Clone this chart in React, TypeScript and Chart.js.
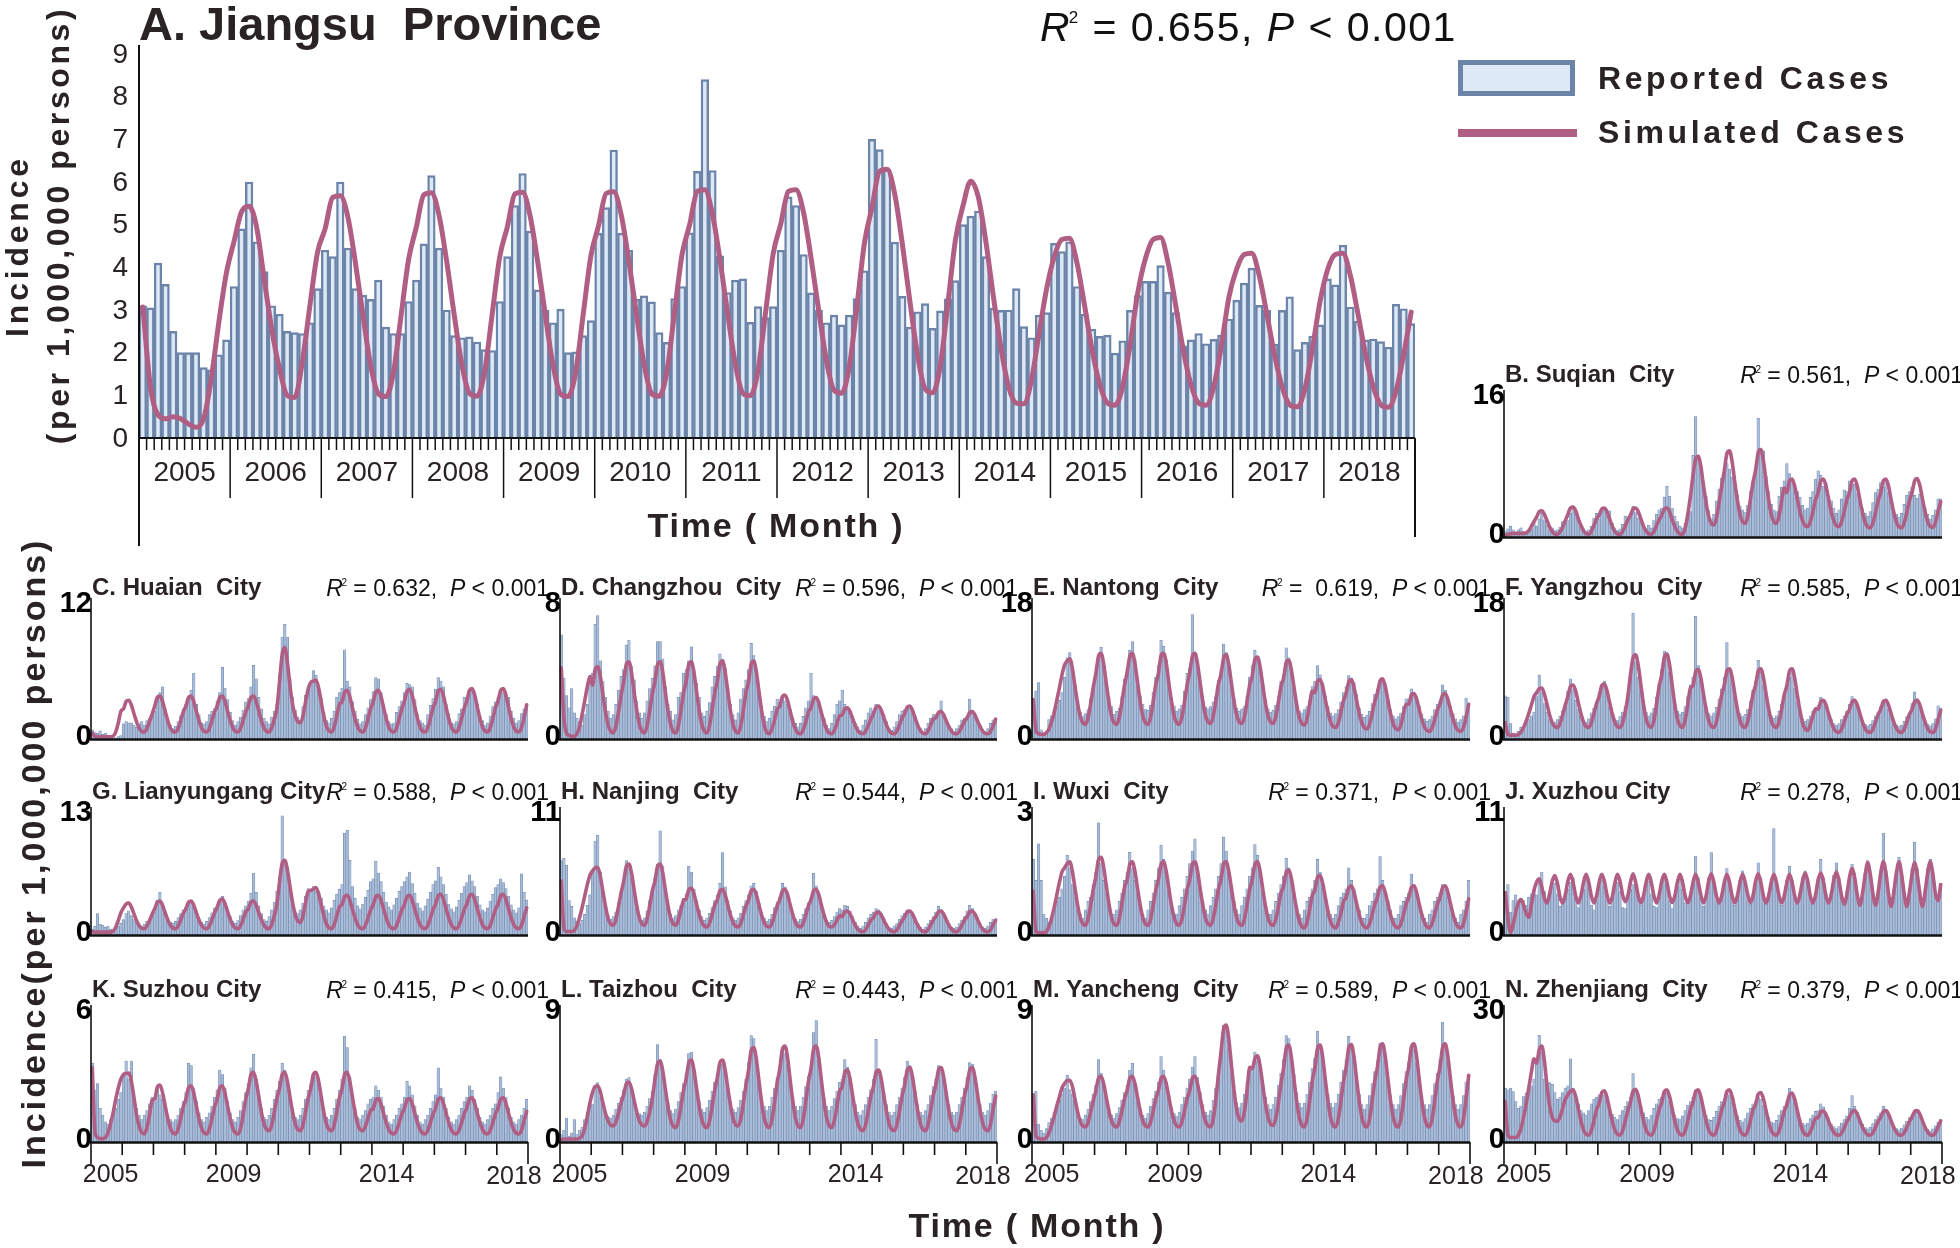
import React, { useEffect, useRef } from "react";
import { Chart, registerables } from "chart.js";
Chart.register(...registerables);

// ---------------- DATA ----------------
const YEARS = ["2005","2006","2007","2008","2009","2010","2011","2012","2013","2014","2015","2016","2017","2018"];
const MONTH_LABELS = YEARS.flatMap((y) => ["01","02","03","04","05","06","07","08","09","10","11","12"].map((m) => `${y}-${m}`));
const MAIN_Y_TICKS = ["0","1","2","3","4","5","6","7","8","9"];
const SMALL_X_TICKS = ["2005","2009","2014","2018"];

const jiangsuReported = [
  3.1,3.05,4.1,3.6,2.5,2.0,2.0,2.0,1.65,1.6,1.95,2.3,
  3.55,4.9,6.0,4.6,3.9,3.1,2.9,2.5,2.47,2.45,2.7,3.5,
  4.4,4.25,6.0,4.45,3.5,3.35,3.25,3.7,2.6,2.45,2.45,3.2,
  3.7,4.55,6.15,4.45,3.0,2.4,2.35,2.37,2.25,2.07,2.05,3.2,
  4.25,5.45,6.2,4.85,3.47,3.0,2.7,3.02,2.0,2.02,2.4,2.75,
  4.8,5.4,6.75,4.8,4.4,3.25,3.33,3.19,2.47,2.24,3.27,3.55,
  4.81,6.25,8.4,6.27,4.27,3.41,3.7,3.73,2.71,3.08,2.82,3.08,
  4.4,5.65,5.45,4.3,3.4,3.0,2.7,2.88,2.65,2.88,3.27,3.92,
  7.0,6.76,6.3,4.59,3.32,2.6,2.96,3.15,2.57,2.98,3.26,3.69,
  5.0,5.2,5.32,4.25,3.04,2.99,3.0,3.5,2.61,2.35,2.88,2.94,
  4.56,4.37,4.6,3.55,2.9,2.55,2.38,2.41,1.99,2.28,2.99,3.34,
  3.67,3.67,4.04,3.42,2.94,2.16,2.3,2.45,2.21,2.31,2.41,2.79,
  3.23,3.63,3.98,3.11,2.99,2.2,2.99,3.31,2.07,2.24,2.39,2.65,
  3.73,3.59,4.52,3.07,2.74,2.3,2.32,2.26,2.13,3.13,3.03,2.68,
];
const jiangsuSimulated = [
  3.07,1.2,0.54,0.45,0.5,0.45,0.33,0.25,0.45,1.37,2.7,3.86,
  4.6,5.3,5.43,4.93,3.7,2.53,1.62,1.0,0.95,1.78,3.1,4.35,
  4.9,5.64,5.68,5.18,4.1,2.86,1.7,1.04,0.97,1.53,2.86,4.19,
  4.93,5.7,5.75,5.22,4.15,2.89,1.73,1.05,0.98,1.55,2.9,4.25,
  4.95,5.72,5.76,5.2,4.12,2.88,1.72,1.03,0.97,1.55,2.92,4.27,
  4.97,5.73,5.77,5.22,4.14,2.9,1.73,1.04,0.98,1.56,2.93,4.3,
  5.0,5.78,5.82,5.25,4.17,2.92,1.75,1.05,0.99,1.58,2.95,4.32,
  5.02,5.78,5.82,5.28,4.2,2.98,1.82,1.12,1.05,1.65,3.05,4.55,
  5.4,6.25,6.3,5.72,4.55,3.2,1.95,1.15,1.06,1.7,3.15,4.65,
  5.45,6.02,5.65,4.6,3.3,2.1,1.2,0.82,0.8,1.35,2.45,3.5,
  4.25,4.65,4.68,4.1,3.1,2.05,1.25,0.82,0.77,1.2,2.2,3.4,
  4.2,4.65,4.7,4.1,3.1,2.05,1.25,0.82,0.77,1.2,2.15,3.3,
  3.95,4.3,4.33,3.8,2.9,1.95,1.2,0.78,0.73,1.15,2.1,3.2,
  3.95,4.3,4.33,3.8,2.9,1.95,1.2,0.78,0.72,1.1,1.95,2.95,
];

const suqianReported = [
  0.6,0.9,1.2,0.8,0.5,0.8,1.0,0.6,0.4,0.7,0.9,1.5,
  1.2,2.0,2.6,1.9,1.3,0.8,1.0,0.7,0.8,1.1,1.7,1.5,
  1.8,2.6,3.3,3.0,2.2,1.1,0.9,0.6,0.8,1.2,2.1,2.6,
  2.0,2.8,3.1,2.3,2.9,1.5,1.0,0.7,0.9,1.4,2.3,2.0,
  2.5,3.4,2.7,2.1,1.6,1.2,0.9,1.3,1.0,1.8,2.5,3.0,
  3.2,4.4,5.6,4.5,3.2,2.3,1.7,1.2,1.0,1.5,2.0,2.8,
  9.0,13.3,9.0,7.0,6.0,4.5,2.9,2.0,2.5,4.0,5.3,6.5,
  7.1,8.1,7.5,6.6,5.8,4.6,3.4,3.0,2.7,3.5,5.0,5.8,
  7.5,13.1,9.5,9.5,6.7,5.0,3.6,3.0,2.8,4.5,5.5,6.2,
  8.1,7.0,6.2,5.5,5.0,4.4,3.5,3.0,3.2,4.4,5.0,6.4,
  7.3,6.8,5.6,6.0,4.5,4.0,3.2,2.6,3.0,4.2,5.2,5.0,
  6.2,5.6,5.8,4.8,4.0,3.1,2.6,2.3,2.8,3.8,4.9,5.3,
  6.0,5.5,6.1,4.9,3.8,3.0,2.5,2.2,2.6,3.6,4.6,5.0,
  5.5,4.6,4.3,4.7,3.9,3.2,2.5,2.0,2.4,3.0,4.2,4.2,
];
const suqianSimulated = [
  0.2,0.3,0.35,0.4,0.4,0.4,0.4,0.4,0.45,0.7,1.2,1.7,
  2.2,2.8,2.9,2.5,1.8,1.1,0.6,0.35,0.3,0.55,1.1,1.8,
  2.5,3.2,3.3,2.9,2.0,1.3,0.7,0.4,0.3,0.6,1.3,2.0,
  2.4,3.1,3.2,2.8,2.0,1.2,0.6,0.35,0.3,0.6,1.2,1.9,
  2.4,3.1,3.2,2.8,2.0,1.2,0.65,0.35,0.3,0.6,1.25,1.9,
  2.4,3.1,3.2,2.8,1.9,1.2,0.6,0.35,0.3,1.0,2.5,4.5,
  6.8,8.6,8.9,7.8,5.7,3.8,2.3,1.5,1.35,2.1,3.8,5.6,
  7.3,9.2,9.5,8.3,6.1,4.1,2.5,1.7,1.5,2.3,4.1,6.0,
  7.4,9.3,9.65,8.4,6.2,4.1,2.5,1.7,1.5,2.3,4.0,5.4,
  4.9,6.2,6.4,5.6,4.2,2.8,1.8,1.25,1.15,1.7,2.8,4.1,
  4.9,6.2,6.4,5.6,4.2,2.8,1.8,1.25,1.15,1.7,2.8,4.1,
  4.9,6.2,6.4,5.6,4.1,2.7,1.65,1.1,1.0,1.55,2.7,4.0,
  4.9,6.2,6.4,5.6,4.1,2.7,1.65,1.1,1.0,1.55,2.7,4.0,
  4.9,6.2,6.45,5.7,4.2,2.8,1.7,1.15,1.05,1.6,2.8,3.9,
];

const huaianReported = [
  0.8,0.6,0.5,0.7,0.4,0.5,0.2,0.3,0.1,0.1,0.2,0.3,
  1.3,1.5,1.4,1.4,1.2,1.0,1.3,1.5,1.2,1.6,1.8,2.0,
  2.4,3.5,4.0,4.5,2.6,1.6,1.2,0.9,1.1,1.5,2.0,2.6,
  3.0,3.6,4.2,5.7,3.0,2.1,1.4,1.3,1.5,2.1,2.4,2.6,
  3.3,4.0,6.2,4.4,3.4,2.3,1.6,1.2,1.5,1.9,2.5,3.2,
  3.5,4.5,6.35,5.2,3.6,2.6,1.8,1.5,1.3,1.9,2.4,3.0,
  5.5,8.8,9.9,8.8,5.2,3.6,2.5,1.9,1.6,2.8,3.8,4.5,
  4.8,5.9,5.5,4.4,3.5,2.3,1.6,1.4,1.8,2.4,3.6,4.0,
  4.4,7.7,5.0,4.5,3.2,2.4,1.7,1.3,1.5,2.1,2.7,3.4,
  4.1,5.3,5.2,4.0,2.9,2.1,1.5,1.3,1.4,2.3,2.8,3.3,
  4.0,4.8,4.7,4.5,3.4,2.1,1.6,1.4,1.2,2.1,2.9,3.5,
  4.3,5.3,5.0,4.5,3.0,2.2,1.4,1.3,1.5,2.2,2.6,3.6,
  3.5,4.3,4.1,3.6,3.0,2.0,1.6,1.2,1.4,2.0,2.8,3.2,
  3.6,4.2,4.0,3.7,3.6,2.4,1.8,1.4,1.6,2.2,2.6,2.8,
];
const huaianSimulated = [
  0.5,0.25,0.2,0.2,0.2,0.2,0.2,0.2,0.25,0.6,1.4,2.4,
  2.6,3.25,3.35,2.95,2.2,1.5,0.95,0.65,0.6,0.9,1.5,2.15,
  2.85,3.6,3.7,3.25,2.4,1.6,0.95,0.65,0.6,0.9,1.6,2.35,
  2.85,3.58,3.7,3.24,2.4,1.59,0.97,0.66,0.6,0.91,1.59,2.34,
  2.84,3.6,3.7,3.25,2.41,1.6,0.98,0.66,0.6,0.92,1.6,2.35,
  2.85,3.6,3.7,3.24,2.4,1.58,0.96,0.65,0.6,1.0,1.7,2.7,
  5.0,7.3,7.9,6.6,4.6,3.0,2.0,1.5,1.4,2.0,3.2,4.3,
  4.9,5.0,5.1,4.4,3.2,2.0,1.1,0.7,0.6,1.05,2.0,3.0,
  3.2,4.05,4.2,3.65,2.7,1.75,1.05,0.7,0.6,0.95,1.75,2.6,
  3.2,4.06,4.2,3.66,2.69,1.75,1.03,0.67,0.6,0.96,1.76,2.62,
  3.26,4.15,4.3,3.75,2.75,1.78,1.04,0.67,0.6,0.97,1.78,2.67,
  3.27,4.15,4.3,3.74,2.74,1.79,1.05,0.68,0.6,0.98,1.79,2.68,
  3.3,4.2,4.35,3.79,2.78,1.8,1.05,0.68,0.6,0.98,1.8,2.7,
  3.3,4.2,4.35,3.8,2.78,1.8,1.05,0.68,0.6,0.98,1.85,2.96,
];

const changzhouReported = [
  6.0,3.5,2.5,1.8,2.9,1.5,1.2,1.0,0.8,1.4,2.0,3.2,
  3.8,6.6,7.1,4.5,3.3,2.4,1.6,1.2,1.4,2.0,2.8,3.6,
  4.0,5.4,5.7,4.2,3.4,2.2,1.5,1.2,1.5,2.2,2.9,3.5,
  4.2,5.6,5.6,4.6,3.0,2.0,1.6,1.1,1.4,2.4,2.7,3.8,
  4.0,4.5,5.3,4.0,3.2,2.4,1.5,1.3,1.6,2.1,3.0,3.6,
  4.2,4.9,4.6,4.1,2.9,2.0,1.4,1.1,1.5,2.3,2.9,3.4,
  4.0,5.5,4.8,3.8,2.6,1.9,1.3,1.0,1.2,1.6,1.9,2.3,
  2.1,2.4,2.2,2.0,1.7,1.2,0.9,0.7,0.9,1.3,1.8,2.2,
  3.8,2.5,2.3,2.2,1.6,1.2,0.8,0.6,0.9,1.4,2.0,2.2,
  2.8,2.0,1.8,1.6,1.3,0.9,0.7,0.5,0.8,1.1,1.5,1.8,
  1.6,2.0,1.9,1.7,1.4,1.0,0.6,0.5,0.7,1.0,1.4,1.6,
  1.7,1.9,1.8,1.5,1.3,0.9,0.6,0.4,0.6,0.9,1.2,1.4,
  1.4,1.5,2.2,1.4,1.1,0.8,0.6,0.4,0.6,0.8,1.1,1.2,
  1.3,2.3,1.6,1.3,1.0,0.8,0.5,0.4,0.6,0.9,1.1,1.2,
];
const changzhouSimulated = [
  4.1,1.2,0.35,0.2,0.15,0.15,0.3,0.7,1.4,2.2,3.0,3.6,
  3.1,4.0,4.15,3.6,2.55,1.55,0.8,0.45,0.35,0.75,1.55,2.5,
  3.3,4.3,4.44,3.8,2.7,1.65,0.85,0.45,0.35,0.75,1.65,2.6,
  3.3,4.3,4.45,3.85,2.7,1.65,0.84,0.43,0.35,0.76,1.66,2.65,
  3.3,4.3,4.44,3.82,2.72,1.66,0.85,0.44,0.35,0.77,1.67,2.66,
  3.33,4.33,4.48,3.86,2.74,1.67,0.85,0.44,0.35,0.76,1.67,2.67,
  3.3,4.32,4.48,3.85,2.72,1.64,0.8,0.38,0.3,0.6,1.1,1.7,
  1.9,2.44,2.53,2.2,1.6,1.0,0.57,0.34,0.3,0.52,1.0,1.55,
  1.8,2.3,2.38,2.07,1.5,0.97,0.55,0.34,0.3,0.5,0.9,1.35,
  1.38,1.74,1.8,1.58,1.17,0.78,0.48,0.33,0.3,0.45,0.78,1.14,
  1.45,1.84,1.9,1.66,1.23,0.81,0.49,0.33,0.3,0.46,0.81,1.2,
  1.46,1.84,1.9,1.65,1.22,0.8,0.5,0.33,0.3,0.46,0.8,1.15,
  1.22,1.53,1.58,1.39,1.04,0.71,0.45,0.33,0.3,0.43,0.71,1.02,
  1.22,1.53,1.58,1.39,1.04,0.71,0.45,0.33,0.3,0.43,0.75,1.14,
];

const nantongReported = [
  4.5,6.2,7.3,1.2,0.8,1.0,2.5,3.0,3.8,4.2,5.0,6.0,
  8.0,10.5,11.2,9.0,6.5,5.0,3.5,3.0,3.3,3.8,5.2,7.0,
  8.5,11.0,11.9,9.5,7.2,5.4,4.2,3.2,3.6,4.0,5.5,7.8,
  9.0,11.5,12.6,10.3,7.8,5.6,4.5,3.8,3.7,4.4,6.0,8.0,
  9.5,12.8,12.0,10.2,7.5,5.3,4.3,3.6,3.9,4.4,6.2,8.5,
  9.2,16.1,11.0,9.4,7.0,5.0,4.1,3.9,4.2,4.8,5.5,7.6,
  9.0,12.3,11.2,9.6,7.3,5.1,4.0,3.6,3.9,4.2,5.6,8.0,
  9.5,11.5,10.6,9.3,7.1,5.0,3.9,3.5,3.7,4.4,5.5,7.5,
  8.2,11.8,10.5,8.8,6.5,4.9,3.6,3.4,3.8,4.2,5.0,6.8,
  7.5,9.5,8.3,7.2,5.6,4.2,3.4,3.0,3.3,3.8,4.8,6.0,
  6.8,8.2,7.9,7.3,5.8,4.0,3.2,2.8,3.1,3.6,4.6,5.8,
  6.5,7.6,7.4,6.8,5.1,3.8,3.0,2.6,2.9,3.4,4.2,5.2,
  5.2,6.5,6.0,5.5,4.3,3.2,2.6,2.3,2.5,3.0,3.8,4.5,
  5.0,7.0,6.3,5.2,4.2,3.3,2.6,2.2,2.5,3.0,5.3,4.6,
];
const nantongSimulated = [
  5.1,1.2,0.7,0.6,0.6,0.8,1.3,2.2,3.4,5.0,6.6,8.3,
  9.6,10.1,10.4,9.1,6.8,4.6,2.9,2.1,1.9,2.75,4.6,6.7,
  8.5,10.7,11.1,9.7,7.2,4.8,3.0,2.1,1.9,2.8,4.8,7.0,
  8.6,10.7,11.1,9.7,7.3,4.8,3.0,2.1,1.9,2.8,4.9,7.1,
  8.5,10.8,11.1,9.8,7.2,4.9,3.0,2.1,1.9,2.8,4.8,7.0,
  8.6,10.7,11.1,9.7,7.3,4.9,3.1,2.2,2.0,2.9,4.9,7.1,
  8.4,10.5,10.9,9.6,7.2,4.85,3.1,2.2,2.0,2.9,4.85,7.0,
  8.2,10.3,10.6,9.3,7.0,4.75,3.0,2.2,2.0,2.9,4.75,6.8,
  7.9,9.9,10.2,8.9,6.7,4.5,2.8,2.0,1.8,2.6,4.5,6.2,
  6.0,7.45,7.7,6.8,5.1,3.5,2.25,1.6,1.5,2.1,3.5,5.0,
  5.9,7.4,7.7,6.7,5.0,3.35,2.1,1.45,1.3,1.95,3.35,4.9,
  6.0,7.5,7.8,6.8,5.0,3.3,2.0,1.35,1.2,1.85,3.3,4.5,
  4.5,5.7,5.9,5.2,3.85,2.55,1.6,1.1,1.0,1.5,2.55,3.75,
  4.55,5.7,5.9,5.15,3.85,2.6,1.6,1.1,1.0,1.5,2.8,4.5,
];

const yangzhouReported = [
  5.6,5.4,2.0,0.8,0.6,1.0,1.5,1.2,2.0,2.5,3.0,3.5,
  5.5,8.3,6.0,4.6,3.5,2.5,2.0,2.2,2.5,3.0,3.6,4.2,
  6.2,7.8,6.5,5.0,3.8,3.0,2.4,2.2,2.6,3.4,4.0,4.8,
  6.0,7.0,7.5,5.6,4.2,3.3,2.6,2.4,2.9,3.5,4.2,5.6,
  8.5,16.3,10.0,8.0,6.0,4.5,3.5,3.0,3.4,4.0,5.4,7.2,
  9.0,11.4,10.5,8.6,6.2,4.6,3.6,3.2,3.5,4.2,5.5,7.0,
  8.0,15.9,9.5,7.6,5.8,4.2,3.3,3.0,3.4,4.1,5.2,6.5,
  8.0,12.5,9.0,7.2,5.5,4.0,3.3,2.9,3.2,3.8,4.9,6.3,
  7.5,10.2,8.6,7.0,5.3,3.8,3.0,2.7,3.0,3.6,4.5,5.8,
  7.0,8.0,8.6,6.6,4.8,3.4,2.6,2.3,2.5,3.0,3.6,4.0,
  4.4,5.4,4.9,4.2,3.4,2.5,2.0,1.8,2.0,2.5,3.0,3.6,
  4.5,5.5,4.8,4.0,3.2,2.4,1.9,1.7,1.9,2.4,3.0,3.5,
  4.2,5.0,4.7,3.9,3.0,2.3,1.8,1.6,1.8,2.3,2.9,3.4,
  4.6,6.1,5.2,4.1,3.1,2.4,1.9,1.7,2.0,2.6,4.3,4.0,
];
const yangzhouSimulated = [
  2.1,0.6,0.5,0.5,0.5,0.6,0.9,1.5,2.3,3.3,4.4,5.5,
  6.0,6.5,6.6,5.8,4.5,3.1,2.1,1.6,1.5,2.0,3.1,4.4,
  5.5,6.8,7.0,6.2,4.7,3.3,2.2,1.6,1.5,2.05,3.3,4.6,
  5.5,6.9,7.1,6.25,4.75,3.3,2.2,1.6,1.5,2.1,3.5,5.5,
  8.3,10.5,10.9,9.5,7.0,4.5,2.6,1.7,1.5,2.4,4.5,6.8,
  8.3,10.6,11.0,9.6,7.0,4.5,2.6,1.7,1.5,2.45,4.5,6.6,
  6.9,8.7,9.0,7.9,5.85,3.9,2.4,1.65,1.5,2.25,3.9,5.7,
  7.0,8.8,9.1,8.0,5.9,3.9,2.4,1.65,1.5,2.3,3.9,5.8,
  7.0,8.8,9.1,7.95,5.9,3.95,2.4,1.65,1.5,2.25,3.9,5.75,
  6.9,8.8,9.1,7.9,5.7,3.7,2.1,1.3,1.1,1.9,3.0,3.9,
  3.85,4.85,5.0,4.4,3.25,2.2,1.35,0.95,0.85,1.3,2.2,3.2,
  3.8,4.8,5.0,4.4,3.3,2.2,1.35,0.93,0.85,1.27,2.2,3.15,
  3.85,4.85,5.0,4.38,3.26,2.18,1.36,0.94,0.85,1.28,2.18,3.17,
  3.84,4.84,5.0,4.4,3.26,2.2,1.35,0.93,0.85,1.3,2.5,3.7,
];

const lianyungangReported = [
  0.6,0.9,2.2,1.1,1.0,0.8,0.9,0.6,0.5,0.7,0.9,1.2,
  1.6,2.2,2.5,2.0,1.6,1.3,1.0,0.9,1.1,1.4,1.6,1.9,
  2.4,3.6,4.4,3.0,2.4,1.6,1.3,1.2,1.4,1.8,2.2,2.6,
  2.9,3.4,3.5,3.0,2.5,1.7,1.3,1.1,1.4,1.8,2.3,2.8,
  3.0,3.6,4.0,3.4,2.6,1.9,1.4,1.2,1.5,2.0,2.6,3.0,
  3.5,4.3,6.4,4.4,3.0,2.2,1.6,1.4,1.9,2.6,3.4,4.5,
  6.0,12.3,7.5,7.0,4.5,3.2,2.4,2.2,2.6,3.3,4.0,4.8,
  4.6,5.0,4.5,4.3,3.8,3.0,2.6,2.3,2.8,3.6,4.2,4.7,
  5.2,10.5,10.8,7.7,5.0,3.8,3.0,2.7,3.2,3.9,4.6,5.5,
  5.8,7.6,6.4,5.5,4.4,3.4,2.9,2.6,3.1,3.8,4.5,5.0,
  5.5,6.0,6.5,5.3,4.3,3.3,2.8,2.5,3.0,3.7,4.4,5.2,
  5.6,7.0,6.0,5.2,4.2,3.2,2.7,2.4,2.9,3.6,4.3,5.0,
  5.4,6.2,5.6,5.0,4.0,3.1,2.6,2.4,2.8,3.5,4.2,4.9,
  5.2,5.8,5.4,4.8,4.0,3.1,2.6,2.3,2.8,6.3,4.4,3.6,
];
const lianyungangSimulated = [
  0.35,0.3,0.3,0.3,0.3,0.3,0.3,0.3,0.4,0.8,1.5,2.3,
  2.8,3.2,3.3,2.9,2.2,1.5,0.97,0.7,0.65,0.92,1.5,2.15,
  2.7,3.4,3.5,3.07,2.3,1.56,1.0,0.71,0.65,0.94,1.56,2.25,
  2.7,3.39,3.5,3.08,2.31,1.55,0.99,0.7,0.65,0.95,1.57,2.3,
  2.85,3.58,3.7,3.24,2.42,1.63,1.02,0.71,0.65,0.96,1.63,2.36,
  2.7,3.4,3.5,3.07,2.3,1.56,1.0,0.71,0.65,1.1,2.0,3.2,
  5.5,7.4,7.7,6.7,5.0,3.35,2.1,1.45,1.3,1.95,3.35,4.5,
  4.6,4.75,4.9,4.26,3.1,2.0,1.16,0.74,0.65,1.08,2.0,2.9,
  3.13,3.96,4.1,3.58,2.65,1.75,1.06,0.72,0.65,1.0,1.75,2.58,
  3.12,3.95,4.1,3.57,2.66,1.76,1.05,0.71,0.65,1.01,1.76,2.6,
  3.14,3.96,4.1,3.58,2.64,1.74,1.06,0.72,0.65,1.0,1.77,2.62,
  3.2,4.06,4.2,3.67,2.71,1.79,1.08,0.72,0.65,1.01,1.79,2.64,
  3.21,4.06,4.2,3.66,2.7,1.8,1.07,0.72,0.65,1.0,1.8,2.65,
  3.2,4.05,4.2,3.67,2.71,1.79,1.08,0.72,0.65,1.0,1.9,2.8,
];

const nanjingReported = [
  6.5,6.7,6.1,3.0,2.5,1.5,1.2,1.0,1.3,1.8,2.6,3.5,
  5.5,8.2,8.7,5.5,3.6,2.5,1.7,1.4,1.6,2.0,2.8,3.8,
  4.8,6.5,6.0,5.0,3.5,2.3,1.6,1.3,1.5,2.1,3.0,4.0,
  5.0,6.2,9.1,6.0,4.0,2.6,1.8,1.5,1.7,2.2,2.6,3.2,
  3.6,6.0,5.5,4.0,3.0,2.2,1.6,1.3,1.5,1.9,2.4,3.0,
  3.5,4.5,7.2,4.2,3.0,2.1,1.5,1.3,1.5,1.9,2.5,3.0,
  3.5,4.3,4.5,3.8,2.8,2.0,1.5,1.2,1.4,1.8,2.4,2.9,
  3.3,4.5,4.2,3.7,2.7,1.9,1.4,1.2,1.4,1.8,2.3,2.8,
  3.2,5.4,4.3,3.5,2.6,1.8,1.3,1.1,1.3,1.6,2.0,2.3,
  2.2,2.6,2.5,2.1,1.6,1.1,0.8,0.6,0.8,1.1,1.5,1.8,
  2.0,2.3,2.2,1.9,1.5,1.0,0.7,0.6,0.8,1.0,1.4,1.7,
  1.9,2.2,2.1,1.8,1.4,1.0,0.7,0.5,0.7,1.0,1.3,1.6,
  2.0,2.5,2.2,1.9,1.4,1.0,0.7,0.6,0.7,1.0,1.3,1.6,
  2.1,2.6,2.3,1.9,1.5,1.0,0.7,0.6,0.8,1.1,1.4,1.3,
];
const nanjingSimulated = [
  4.7,0.6,0.3,0.3,0.3,0.4,0.8,1.5,2.4,3.4,4.4,5.2,
  5.6,5.85,5.9,5.15,3.8,2.5,1.45,0.95,0.85,1.35,2.5,3.7,
  4.7,6.0,6.2,5.4,3.95,2.56,1.5,0.96,0.85,1.4,2.56,3.85,
  4.7,6.0,6.2,5.4,3.95,2.56,1.5,0.96,0.85,1.3,2.2,3.0,
  3.15,3.96,4.1,3.6,2.67,1.79,1.11,0.77,0.7,1.04,1.79,2.6,
  3.08,3.87,4.0,3.5,2.61,1.76,1.1,0.77,0.7,1.03,1.76,2.55,
  3.07,3.87,4.0,3.51,2.6,1.75,1.1,0.76,0.7,1.03,1.76,2.54,
  3.08,3.86,4.0,3.5,2.62,1.76,1.09,0.77,0.7,1.02,1.75,2.55,
  3.07,3.87,4.0,3.5,2.6,1.75,1.1,0.76,0.7,0.9,1.3,1.7,
  1.6,2.03,2.1,1.83,1.34,0.86,0.5,0.32,0.28,0.46,0.86,1.3,
  1.52,1.93,2.0,1.74,1.28,0.83,0.49,0.31,0.28,0.45,0.83,1.24,
  1.59,2.02,2.1,1.83,1.33,0.86,0.5,0.32,0.28,0.46,0.86,1.3,
  1.6,2.03,2.1,1.82,1.34,0.86,0.5,0.32,0.28,0.46,0.86,1.31,
  1.6,2.02,2.1,1.83,1.34,0.85,0.5,0.32,0.28,0.46,0.9,1.3,
];

const wuxiReported = [
  1.8,1.3,2.17,1.3,0.5,0.4,0.3,0.4,0.6,0.8,0.9,1.1,
  1.4,1.9,1.6,1.2,0.9,0.6,0.5,0.4,0.6,0.8,0.9,1.2,
  1.5,2.67,1.7,1.3,1.0,0.7,0.5,0.5,0.6,0.8,1.0,1.3,
  1.5,1.97,1.6,1.3,1.0,0.7,0.5,0.4,0.6,0.8,1.0,1.3,
  1.6,2.14,1.8,1.4,1.0,0.7,0.5,0.5,0.7,0.9,1.1,1.4,
  1.7,2.0,2.29,1.6,1.1,0.8,0.6,0.5,0.7,0.9,1.1,1.4,
  1.7,2.33,2.0,1.5,1.1,0.8,0.6,0.5,0.7,0.9,1.1,1.4,
  1.6,2.15,1.9,1.4,1.0,0.7,0.5,0.5,0.6,0.8,1.0,1.2,
  1.4,1.83,1.6,1.3,0.9,0.7,0.5,0.4,0.6,0.8,0.9,1.1,
  1.3,1.8,1.5,1.2,0.9,0.6,0.5,0.4,0.5,0.7,0.9,1.0,
  1.1,1.6,1.3,1.1,0.8,0.6,0.4,0.4,0.5,0.7,0.8,1.0,
  1.1,1.87,1.3,1.0,0.8,0.6,0.4,0.4,0.5,0.7,0.8,0.9,
  1.0,1.45,1.2,1.0,0.7,0.5,0.4,0.3,0.5,0.6,0.8,0.9,
  1.0,1.2,1.1,0.9,0.7,0.5,0.4,0.3,0.5,0.6,0.8,1.3,
];
const wuxiSimulated = [
  1.04,0.1,0.05,0.05,0.05,0.08,0.2,0.4,0.65,0.95,1.25,1.5,
  1.6,1.7,1.74,1.51,1.11,0.71,0.41,0.26,0.23,0.38,0.71,1.08,
  1.4,1.79,1.85,1.61,1.17,0.75,0.42,0.26,0.23,0.39,0.75,1.14,
  1.32,1.68,1.74,1.51,1.1,0.71,0.41,0.26,0.23,0.38,0.71,1.08,
  1.32,1.68,1.74,1.51,1.11,0.71,0.42,0.26,0.23,0.38,0.71,1.08,
  1.31,1.68,1.74,1.52,1.1,0.72,0.41,0.26,0.23,0.39,0.71,1.09,
  1.32,1.69,1.74,1.51,1.11,0.71,0.41,0.26,0.23,0.38,0.72,1.08,
  1.32,1.68,1.74,1.51,1.1,0.71,0.41,0.26,0.23,0.37,0.66,1.0,
  1.16,1.49,1.55,1.34,0.97,0.61,0.34,0.2,0.17,0.31,0.61,0.94,
  1.07,1.37,1.42,1.23,0.9,0.57,0.32,0.2,0.17,0.3,0.52,0.8,
  0.89,1.13,1.17,1.02,0.75,0.49,0.29,0.19,0.17,0.27,0.49,0.73,
  0.9,1.14,1.17,1.01,0.75,0.48,0.29,0.19,0.17,0.27,0.49,0.74,
  0.89,1.13,1.17,1.02,0.74,0.49,0.3,0.19,0.17,0.28,0.5,0.73,
  0.89,1.13,1.17,1.02,0.75,0.49,0.29,0.19,0.17,0.27,0.55,0.86,
];

const xuzhouReported = [
  3.3,4.4,2.0,3.0,3.5,2.8,3.2,3.0,2.6,3.3,3.6,4.0,
  3.5,4.5,5.5,3.8,3.0,3.4,4.2,4.5,3.6,2.5,2.8,3.5,
  4.0,4.6,5.0,3.2,2.4,3.0,4.0,5.0,4.2,2.6,2.2,3.0,
  4.2,4.8,4.3,3.0,2.5,3.2,4.4,4.6,3.8,2.4,2.3,3.2,
  4.0,4.4,4.8,3.2,2.6,3.3,4.0,4.7,3.6,2.5,2.4,3.3,
  4.3,5.0,4.6,3.0,2.3,3.1,4.2,5.2,4.0,2.8,2.6,3.4,
  4.6,6.9,5.0,3.2,2.5,3.4,5.0,7.2,4.4,3.0,2.7,3.6,
  4.8,5.8,4.6,3.3,2.6,3.5,4.8,5.6,4.3,3.0,2.7,3.5,
  4.6,6.3,5.0,3.4,2.8,3.6,4.6,9.3,4.5,3.1,2.6,3.6,
  4.8,6.0,4.8,3.5,2.8,3.7,5.0,5.6,4.6,3.2,2.8,3.6,
  5.0,6.6,5.0,3.6,2.9,3.8,5.2,6.3,5.0,3.3,2.7,3.8,
  5.2,6.2,5.4,3.6,2.8,3.9,5.4,6.5,5.2,3.4,2.8,3.8,
  5.6,8.9,5.6,3.8,2.9,4.0,5.6,6.8,5.4,3.5,2.9,4.0,
  5.8,8.1,5.8,3.9,3.0,4.0,5.8,6.6,5.4,3.6,3.0,4.5,
];
const xuzhouSimulated = [
  3.7,1.5,0.2,0.9,2.0,2.8,3.1,2.6,1.9,1.55,2.6,3.9,
  4.6,4.9,4.2,3.2,2.8,3.6,4.7,5.2,4.5,3.3,2.8,3.5,
  4.7,5.3,4.6,3.4,2.8,3.4,4.6,5.3,4.6,3.4,2.8,3.4,
  4.6,5.3,4.7,3.5,2.8,3.3,4.5,5.3,4.7,3.5,2.9,3.4,
  4.6,5.35,4.6,3.4,2.8,3.4,4.6,5.3,4.6,3.4,2.8,3.5,
  4.7,5.3,4.6,3.4,2.85,3.4,4.6,5.3,4.6,3.4,2.8,3.4,
  4.6,5.3,4.6,3.5,2.8,3.4,4.7,5.35,4.6,3.4,2.8,3.4,
  4.6,5.3,4.6,3.4,2.8,3.4,4.6,5.3,4.6,3.5,2.85,3.4,
  4.7,5.35,4.6,3.4,2.8,3.4,4.6,5.3,4.6,3.4,2.8,3.4,
  4.6,5.3,4.6,3.4,2.8,3.5,4.7,5.4,4.7,3.4,2.8,3.5,
  4.8,5.4,4.7,3.4,2.8,3.5,4.8,5.5,4.7,3.4,2.7,3.5,
  5.0,5.8,5.0,3.5,2.6,3.6,5.2,6.3,5.3,3.6,2.6,3.7,
  5.4,6.4,5.4,3.6,2.5,3.7,5.4,6.4,5.3,3.6,2.5,3.7,
  5.3,6.3,5.3,3.6,2.5,3.7,5.4,6.4,5.3,3.6,3.0,4.4,
];

const suzhouReported = [
  3.5,2.3,2.6,1.5,1.2,0.9,0.8,1.0,1.2,1.5,1.9,2.2,
  3.0,3.6,2.8,3.6,2.0,1.5,1.2,1.0,1.2,1.4,1.7,2.0,
  1.8,2.4,2.1,1.9,1.6,1.2,1.0,0.9,1.0,1.2,1.5,1.8,
  2.2,3.5,3.4,2.4,1.8,1.3,1.0,0.9,1.1,1.3,1.6,2.0,
  2.3,3.2,3.0,2.4,1.8,1.3,1.0,0.9,1.1,1.4,1.8,2.2,
  2.6,3.3,3.9,2.8,2.1,1.5,1.1,1.0,1.2,1.5,1.9,2.3,
  2.7,3.5,3.2,2.7,2.0,1.5,1.1,1.0,1.2,1.5,1.9,2.3,
  2.6,3.0,2.9,2.6,2.0,1.4,1.1,1.0,1.2,1.5,1.9,2.3,
  2.8,4.7,4.2,2.9,2.1,1.5,1.1,1.0,1.2,1.4,1.7,1.9,
  2.0,2.5,2.3,2.0,1.6,1.2,0.9,0.8,1.0,1.2,1.5,1.7,
  2.0,2.7,2.5,2.1,1.6,1.2,0.9,0.8,1.0,1.2,1.5,1.8,
  2.1,3.3,2.4,2.0,1.5,1.1,0.9,0.8,1.0,1.2,1.5,1.8,
  2.0,2.5,2.3,1.9,1.5,1.1,0.9,0.8,1.0,1.2,1.5,1.7,
  2.2,2.9,2.4,2.0,1.5,1.1,0.9,0.8,1.0,1.2,1.5,1.9,
];
const suzhouSimulated = [
  3.3,0.5,0.2,0.15,0.15,0.2,0.4,0.8,1.3,1.9,2.4,2.8,
  3.0,3.05,3.07,2.7,2.0,1.2,0.7,0.42,0.36,0.63,1.2,1.85,
  1.92,2.44,2.53,2.2,1.62,1.05,0.62,0.4,0.36,0.58,1.05,1.58,
  1.9,2.42,2.5,2.18,1.6,1.04,0.62,0.4,0.36,0.57,1.04,1.56,
  1.9,2.42,2.5,2.17,1.6,1.05,0.62,0.4,0.36,0.6,1.2,1.9,
  2.37,3.0,3.1,2.71,2.01,1.33,0.81,0.55,0.5,0.76,1.33,1.96,
  2.38,3.0,3.1,2.7,2.0,1.33,0.82,0.55,0.5,0.76,1.33,1.95,
  2.37,3.0,3.1,2.71,2.02,1.32,0.81,0.55,0.5,0.76,1.34,1.96,
  2.36,3.0,3.1,2.7,2.0,1.33,0.8,0.54,0.5,0.7,1.05,1.4,
  1.49,1.87,1.93,1.69,1.27,0.86,0.55,0.39,0.36,0.52,0.86,1.24,
  1.5,1.87,1.93,1.7,1.27,0.86,0.55,0.39,0.36,0.52,0.86,1.25,
  1.51,1.9,1.96,1.72,1.29,0.87,0.55,0.39,0.36,0.52,0.87,1.26,
  1.52,1.9,1.96,1.72,1.28,0.87,0.56,0.39,0.36,0.52,0.87,1.26,
  1.51,1.9,1.96,1.72,1.29,0.87,0.55,0.39,0.36,0.52,0.95,1.36,
];

const taizhouReported = [
  0.5,0.8,1.6,0.4,0.6,1.5,0.5,0.8,1.0,1.5,2.0,2.5,
  2.5,3.6,3.96,3.0,2.4,1.9,1.7,1.6,1.8,2.2,2.6,3.0,
  3.5,4.2,4.3,3.6,2.8,2.2,1.9,1.8,2.0,2.4,2.9,3.4,
  4.5,6.5,5.5,4.6,3.6,2.6,2.1,1.9,2.2,2.7,3.3,3.9,
  4.6,5.9,6.0,4.8,3.7,2.7,2.2,2.0,2.3,2.8,3.4,4.0,
  4.6,5.0,5.2,4.6,3.6,2.7,2.2,2.0,2.3,2.8,3.4,4.2,
  5.3,7.1,6.9,5.4,4.0,3.0,2.4,2.1,2.4,3.0,3.6,4.3,
  5.0,6.2,5.9,5.2,4.0,3.0,2.4,2.1,2.4,3.0,3.7,4.4,
  5.0,7.3,8.1,5.6,4.2,3.0,2.4,2.1,2.4,2.9,3.4,4.0,
  4.2,5.5,5.0,4.3,3.3,2.5,2.0,1.8,2.1,2.5,3.0,3.5,
  4.2,6.85,4.8,4.2,3.3,2.5,2.0,1.8,2.0,2.5,3.0,3.6,
  4.3,5.4,5.1,4.3,3.4,2.5,2.0,1.8,2.1,2.5,3.1,3.7,
  4.2,5.1,5.0,4.2,3.3,2.5,2.0,1.8,2.0,2.5,3.0,3.6,
  4.3,5.3,5.2,4.3,3.3,2.5,2.0,1.8,2.1,2.6,3.2,3.4,
];
const taizhouSimulated = [
  0.15,0.2,0.2,0.2,0.2,0.2,0.2,0.25,0.4,0.9,1.7,2.6,
  3.3,3.7,3.75,3.35,2.6,1.9,1.4,1.12,1.07,1.35,1.93,2.6,
  3.18,3.88,4.0,3.56,2.77,2.01,1.42,1.13,1.07,1.36,2.01,2.9,
  4.16,5.22,5.4,4.73,3.54,2.38,1.49,1.05,0.96,1.4,2.38,3.45,
  4.2,5.28,5.46,4.79,3.57,2.4,1.5,1.05,0.96,1.41,2.4,3.48,
  4.3,5.3,5.46,4.8,3.6,2.5,1.6,1.15,1.07,1.55,2.6,3.8,
  4.8,6.1,6.3,5.5,4.06,2.67,1.6,1.07,0.96,1.49,2.67,3.95,
  4.88,6.18,6.4,5.58,4.12,2.7,1.61,1.07,0.96,1.5,2.7,4.01,
  4.9,6.2,6.4,5.6,4.1,2.7,1.6,1.07,0.96,1.45,2.4,3.4,
  3.67,4.64,4.8,4.19,3.1,2.05,1.24,0.83,0.75,1.16,2.05,3.02,
  3.7,4.65,4.8,4.2,3.1,2.05,1.24,0.83,0.75,1.15,2.05,3.05,
  3.79,4.8,4.97,4.34,3.2,2.1,1.26,0.83,0.75,1.17,2.1,3.11,
  3.8,4.8,4.97,4.33,3.2,2.1,1.26,0.83,0.75,1.17,2.1,3.1,
  3.79,4.8,4.97,4.34,3.2,2.1,1.26,0.83,0.75,1.17,2.2,3.06,
];

const yanchengReported = [
  3.0,3.4,1.2,0.8,0.6,0.9,1.3,1.6,2.0,2.4,2.8,3.2,
  3.6,4.45,3.5,3.2,2.6,2.0,1.6,1.5,1.8,2.2,2.7,3.2,
  3.8,5.5,4.6,3.8,3.0,2.2,1.8,1.6,1.9,2.3,2.8,3.3,
  3.8,4.8,5.25,3.9,3.0,2.2,1.8,1.6,1.9,2.4,2.9,3.4,
  4.0,5.7,4.8,4.0,3.1,2.3,1.9,1.7,2.0,2.5,3.0,3.6,
  4.2,5.0,5.7,4.3,3.3,2.5,2.0,1.8,2.1,2.8,3.6,4.6,
  6.0,7.8,7.5,6.2,4.6,3.4,2.6,2.3,2.6,3.2,4.0,4.8,
  5.0,6.0,5.4,4.8,3.8,3.0,2.5,2.2,2.5,3.0,3.8,4.6,
  5.5,7.1,6.9,5.8,4.5,3.3,2.6,2.3,2.6,3.2,4.0,4.9,
  5.6,7.4,6.4,5.6,4.3,3.2,2.6,2.3,2.6,3.2,4.0,4.8,
  5.5,7.05,6.5,5.5,4.2,3.2,2.5,2.2,2.5,3.1,3.9,4.7,
  5.4,6.6,6.3,5.4,4.1,3.1,2.5,2.2,2.5,3.1,3.9,4.7,
  5.3,6.4,6.2,5.3,4.1,3.1,2.5,2.2,2.5,3.1,3.9,4.6,
  5.5,8.0,6.5,5.4,4.2,3.1,2.5,2.2,2.5,3.1,4.0,4.4,
];
const yanchengSimulated = [
  3.15,0.4,0.25,0.2,0.2,0.3,0.6,1.1,1.7,2.4,3.0,3.6,
  3.9,4.1,4.12,3.7,2.85,2.0,1.37,1.06,1.0,1.3,2.0,2.75,
  3.43,4.24,4.38,3.87,2.96,2.08,1.41,1.07,1.0,1.34,2.08,2.89,
  3.43,4.25,4.38,3.88,2.96,2.08,1.41,1.07,1.0,1.34,2.08,2.9,
  3.44,4.24,4.38,3.87,2.97,2.08,1.42,1.07,1.0,1.34,2.08,2.89,
  3.43,4.24,4.38,3.87,2.96,2.08,1.41,1.07,1.0,1.5,2.8,4.5,
  6.0,7.54,7.8,6.84,5.11,3.45,2.17,1.53,1.4,2.04,3.45,4.98,
  4.9,5.56,5.75,5.05,3.8,2.59,1.66,1.19,1.1,1.57,2.59,3.9,
  4.93,6.24,6.46,5.64,4.17,2.75,1.66,1.11,1.0,1.55,2.75,4.06,
  4.94,6.24,6.46,5.64,4.17,2.75,1.66,1.11,1.0,1.55,2.75,4.06,
  4.96,6.28,6.5,5.68,4.19,2.76,1.66,1.11,1.0,1.55,2.76,4.08,
  5.0,6.3,6.55,5.7,4.2,2.78,1.67,1.11,1.0,1.56,2.78,4.1,
  5.0,6.31,6.55,5.72,4.22,2.77,1.67,1.11,1.0,1.55,2.78,4.1,
  5.0,6.3,6.55,5.71,4.2,2.78,1.67,1.11,1.0,1.55,2.9,4.45,
];

const zhenjiangReported = [
  12.0,11.6,12.0,11.2,9.0,7.5,8.0,10.1,10.9,11.5,12.5,14.0,
  18.0,23.7,20.0,14.0,12.0,13.2,12.8,11.0,9.5,10.0,11.0,12.0,
  12.5,18.5,12.0,10.5,8.5,7.0,6.5,6.0,7.0,8.5,9.5,10.0,
  10.5,11.0,10.5,9.0,7.5,6.2,5.5,5.0,6.0,7.0,8.0,9.0,
  10.0,15.2,11.5,9.5,8.0,6.5,5.5,5.0,6.0,7.5,8.5,9.5,
  10.0,11.0,10.8,9.0,7.5,6.0,5.2,5.0,5.8,7.0,8.2,9.0,
  10.0,11.5,11.0,9.2,7.6,6.0,5.0,4.8,5.5,6.8,8.0,9.0,
  9.5,11.0,10.5,8.8,7.2,5.8,4.8,4.5,5.2,6.5,7.5,8.5,
  9.0,10.0,9.5,8.2,6.8,5.5,4.5,4.2,4.8,6.0,7.0,8.0,
  9.0,12.0,11.0,9.0,6.8,5.2,4.2,3.8,4.2,5.2,6.0,6.8,
  7.0,8.5,7.8,6.5,5.2,4.0,3.4,3.0,3.4,4.2,5.0,5.8,
  7.5,10.3,8.0,6.6,5.0,3.9,3.2,2.9,3.3,4.1,5.0,5.8,
  6.5,8.0,7.2,6.0,4.6,3.6,3.0,2.7,3.1,3.8,4.6,5.4,
  6.0,7.0,6.6,5.4,4.3,3.4,2.8,2.5,2.9,3.6,4.4,5.0,
];
const zhenjiangSimulated = [
  9.0,1.5,1.0,1.0,1.0,1.5,3.0,5.5,8.5,12.0,15.5,18.5,
  17.5,20.5,21.3,18.0,12.5,8.0,5.5,4.7,4.6,5.6,7.5,9.5,
  10.5,11.3,11.6,10.1,7.4,4.7,2.7,1.7,1.5,2.5,4.7,7.2,
  8.6,11.0,11.4,9.9,7.2,4.7,2.7,1.7,1.5,2.5,4.7,7.0,
  8.8,11.3,11.7,10.2,7.4,4.8,2.7,1.7,1.5,2.5,4.8,7.2,
  8.8,11.2,11.6,10.1,7.4,4.7,2.7,1.7,1.5,2.5,4.7,7.2,
  8.75,11.2,11.6,10.05,7.35,4.75,2.7,1.7,1.5,2.5,4.75,7.15,
  8.8,11.25,11.6,10.1,7.4,4.7,2.7,1.7,1.5,2.5,4.7,7.1,
  8.3,10.6,11.0,9.6,7.0,4.5,2.6,1.7,1.5,2.45,4.5,6.8,
  8.3,10.5,10.9,9.5,7.0,4.5,2.6,1.7,1.5,2.3,3.8,5.3,
  5.4,6.7,6.9,6.1,4.6,3.2,2.15,1.6,1.5,2.0,3.2,4.5,
  5.5,6.8,7.0,6.2,4.7,3.3,2.2,1.6,1.5,2.05,3.3,4.6,
  5.45,6.8,7.0,6.15,4.7,3.25,2.15,1.6,1.5,2.05,3.25,4.55,
  5.5,6.8,7.0,6.2,4.7,3.3,2.2,1.6,1.5,2.05,3.4,4.7,
];

// ---------------- STYLE / LAYOUT ----------------
const FONT = '"Liberation Sans", Arial, Helvetica, sans-serif';
const INK = "#2a2323";
const AXIS = "#111111";
const LINE_COLOR = "#b05e84";
const MAIN_FILL = "#dde9f6";
const MAIN_EDGE = "#6c84a8";
const SMALL_FILL = "#a9bcd8";
const SMALL_EDGE = "#7189ae";

const COLS = [
  { axisX: 91, right: 528 },
  { axisX: 560, right: 997 },
  { axisX: 1032, right: 1470 },
  { axisX: 1504, right: 1942 },
];
const ROWS: Record<string, { top: number; zero: number; titleY: number; bottom?: boolean }> = {
  b: { top: 392, zero: 537, titleY: 375 },
  r1: { top: 600, zero: 739, titleY: 588 },
  r2: { top: 809, zero: 935, titleY: 792 },
  r3: { top: 1007, zero: 1142, titleY: 990, bottom: true },
};
const SMALL_X_TICK_POS = [0.63, 4.57, 9.47, 13.55]; // in years from the axis start

type Panel = {
  title: string; r2: string; yMax: number; reported: number[]; simulated: number[];
  col: number; row: string; extra?: string;
};
const PANELS: Panel[] = [
  { title: "B. Suqian  City", r2: "0.561", yMax: 16, reported: suqianReported, simulated: suqianSimulated, col: 3, row: "b" },
  { title: "C. Huaian  City", r2: "0.632", yMax: 12, reported: huaianReported, simulated: huaianSimulated, col: 0, row: "r1" },
  { title: "D. Changzhou  City", r2: "0.596", yMax: 8, reported: changzhouReported, simulated: changzhouSimulated, col: 1, row: "r1" },
  { title: "E. Nantong  City", r2: " 0.619", yMax: 18, reported: nantongReported, simulated: nantongSimulated, col: 2, row: "r1" },
  { title: "F. Yangzhou  City", r2: "0.585", yMax: 18, reported: yangzhouReported, simulated: yangzhouSimulated, col: 3, row: "r1" },
  { title: "G. Lianyungang City", r2: "0.588", yMax: 13, reported: lianyungangReported, simulated: lianyungangSimulated, col: 0, row: "r2" },
  { title: "H. Nanjing  City", r2: "0.544", yMax: 11, reported: nanjingReported, simulated: nanjingSimulated, col: 1, row: "r2" },
  { title: "I. Wuxi  City", r2: "0.371", yMax: 3, reported: wuxiReported, simulated: wuxiSimulated, col: 2, row: "r2" },
  { title: "J. Xuzhou City", r2: "0.278", yMax: 11, reported: xuzhouReported, simulated: xuzhouSimulated, col: 3, row: "r2" },
  { title: "K. Suzhou City", r2: "0.415", yMax: 6, reported: suzhouReported, simulated: suzhouSimulated, col: 0, row: "r3", extra: "ytitle" },
  { title: "L. Taizhou  City", r2: "0.443", yMax: 9, reported: taizhouReported, simulated: taizhouSimulated, col: 1, row: "r3" },
  { title: "M. Yancheng  City", r2: "0.589", yMax: 9, reported: yanchengReported, simulated: yanchengSimulated, col: 2, row: "r3", extra: "xtitle" },
  { title: "N. Zhenjiang  City", r2: "0.379", yMax: 30, reported: zhenjiangReported, simulated: zhenjiangSimulated, col: 3, row: "r3" },
];

// ---------------- DRAW HELPERS ----------------
function seg(ctx: CanvasRenderingContext2D, x1: number, y1: number, x2: number, y2: number) {
  ctx.beginPath(); ctx.moveTo(x1, y1); ctx.lineTo(x2, y2); ctx.stroke();
}
function spaced(ctx: any, px: number) { ctx.letterSpacing = px + "px"; }

function drawR2(ctx: CanvasRenderingContext2D, x: number, baseY: number, value: string, size: number, sep: string, align: "left" | "right", spacing: number) {
  const parts = [
    { t: "R", f: `italic ${size}px ${FONT}`, dy: 0, kern: 0 },
    { t: "2", f: `${Math.round(size * 0.42)}px ${FONT}`, dy: -size * 0.45, kern: -size * 0.06 },
    { t: " = " + value + "," + sep, f: `${size}px ${FONT}`, dy: 0, kern: 0 },
    { t: "P", f: `italic ${size}px ${FONT}`, dy: 0, kern: 0 },
    { t: " < 0.001", f: `${size}px ${FONT}`, dy: 0, kern: 0 },
  ];
  ctx.textAlign = "left"; ctx.textBaseline = "alphabetic";
  spaced(ctx, spacing);
  const widths = parts.map((p) => { ctx.font = p.f; return ctx.measureText(p.t).width + p.kern; });
  const total = widths.reduce((a, b) => a + b, 0);
  let cx = align === "left" ? x : x - total;
  parts.forEach((p, i) => { ctx.font = p.f; ctx.fillText(p.t, cx + p.kern, baseY + p.dy); cx += widths[i]; });
  spaced(ctx, 0);
}

function rotText(ctx: any, text: string, cx: number, cy: number, font: string, spacing: number) {
  ctx.save();
  ctx.translate(cx, cy); ctx.rotate(-Math.PI / 2);
  ctx.font = font; spaced(ctx, spacing);
  ctx.textAlign = "center"; ctx.textBaseline = "middle";
  ctx.fillText(text, 0, 0);
  ctx.restore();
}

function drawMain(chart: any) {
  const ctx = chart.ctx as CanvasRenderingContext2D;
  const a = chart.chartArea; const xs = chart.scales.x; const ys = chart.scales.y;
  const n = MONTH_LABELS.length; const w = (a.right - a.left) / n;
  ctx.save();
  ctx.strokeStyle = AXIS; ctx.fillStyle = INK;
  ctx.lineWidth = 2;
  seg(ctx, a.left, 45, a.left, 546);
  seg(ctx, a.left, a.bottom, a.right, a.bottom);
  seg(ctx, a.right, a.bottom, a.right, 537);
  ctx.lineWidth = 1.5;
  for (let i = 1; i < n; i++) {
    const x = xs.getPixelForValue(i) - w / 2;
    seg(ctx, x, a.bottom, x, i % 12 === 0 ? 498 : a.bottom + 12);
  }
  ctx.font = `28px ${FONT}`; ctx.textAlign = "center"; ctx.textBaseline = "middle";
  YEARS.forEach((y, k) => {
    const cx = (xs.getPixelForValue(k * 12) + xs.getPixelForValue(k * 12 + 11)) / 2;
    ctx.fillText(y, cx, 473);
  });
  ctx.textAlign = "right";
  MAIN_Y_TICKS.forEach((t) => ctx.fillText(t, 128, ys.getPixelForValue(Number(t)) + 1));
  // title
  ctx.font = `bold 47px ${FONT}`; ctx.textAlign = "left"; ctx.textBaseline = "alphabetic";
  ctx.fillText("A. Jiangsu  Province", 139, 40);
  ctx.fillStyle = "#111";
  drawR2(ctx, 1040, 41, "0.655", 41, " ", "left", 1.5);
  // legend
  ctx.fillStyle = MAIN_FILL; ctx.fillRect(1461, 62, 112, 32);
  ctx.strokeStyle = MAIN_EDGE; ctx.lineWidth = 5; ctx.strokeRect(1460.5, 62.5, 112, 31);
  ctx.fillStyle = LINE_COLOR; ctx.fillRect(1458, 129, 119, 8);
  ctx.fillStyle = INK; ctx.font = `bold 32px ${FONT}`; ctx.textBaseline = "middle"; ctx.textAlign = "left";
  spaced(ctx, 3.6);
  ctx.fillText("Reported Cases", 1598, 80);
  ctx.fillText("Simulated Cases", 1598, 134);
  spaced(ctx, 1.8);
  ctx.textAlign = "center";
  ctx.font = `bold 34px ${FONT}`;
  ctx.fillText("Time ( Month )", 776, 528);
  spaced(ctx, 0);
  rotText(ctx, "Incidence", 19, 246, `bold 32px ${FONT}`, 3.8);
  rotText(ctx, "(per 1,000,000 persons)", 60, 225, `bold 32px ${FONT}`, 3.6);
  ctx.restore();
}

function drawSmall(chart: any, p: Panel, cl: number, ct: number) {
  const ctx = chart.ctx as CanvasRenderingContext2D;
  const a = chart.chartArea; const xs = chart.scales.x; const ys = chart.scales.y;
  const row = ROWS[p.row];
  const n = MONTH_LABELS.length; const w = (a.right - a.left) / n;
  ctx.save();
  ctx.translate(-cl, -ct); // draw in page coordinates
  const L = a.left + cl, R = a.right + cl;
  const y0 = ys.getPixelForValue(0) + ct, yT = ys.getPixelForValue(p.yMax) + ct;
  ctx.strokeStyle = AXIS; ctx.fillStyle = INK;
  ctx.lineWidth = 1.6;
  seg(ctx, L, yT - 2, L, row.bottom ? y0 + 22 : y0);
  ctx.lineWidth = 2.6;
  seg(ctx, L - 1, y0 + 0.5, R, y0 + 0.5);
  if (row.bottom) {
    ctx.lineWidth = 1.6;
    for (let k = 1; k <= YEARS.length; k++) {
      const x = xs.getPixelForValue(k * 12) - w / 2 + cl;
      seg(ctx, x, y0, x, k === YEARS.length ? y0 + 22 : y0 + 13);
    }
    ctx.font = `25px ${FONT}`; ctx.textAlign = "center"; ctx.textBaseline = "middle";
    SMALL_X_TICKS.forEach((t, i) => {
      const x = xs.getPixelForValue(0) - w / 2 + cl + SMALL_X_TICK_POS[i] * 12 * w;
      ctx.fillText(t, x, y0 + 33 + (i === 3 ? 2 : 0));
    });
  }
  // y tick labels
  ctx.font = `bold 29px ${FONT}`; ctx.textAlign = "right"; ctx.textBaseline = "middle";
  ctx.fillStyle = "#000";
  ctx.fillText(String(p.yMax), L + 1, yT + 4);
  ctx.fillText("0", L + 1, y0 - 2);
  // title + R2
  ctx.fillStyle = INK;
  ctx.font = `bold 24px ${FONT}`; ctx.textAlign = "left"; ctx.textBaseline = "middle";
  ctx.fillText(p.title, L + 1, row.titleY);
  ctx.fillStyle = "#111";
  drawR2(ctx, R + 21, row.titleY + 8, p.r2, 23, "  ", "right", 0);
  ctx.fillStyle = INK;
  if (p.extra === "ytitle") {
    rotText(ctx, "Incidence(per 1,000,000 persons)", 36, 853, `bold 34px ${FONT}`, 3);
  }
  if (p.extra === "xtitle") {
    ctx.font = `bold 34px ${FONT}`; spaced(ctx, 1.8);
    ctx.textAlign = "center"; ctx.textBaseline = "middle";
    ctx.fillText("Time ( Month )", 1037, 1228);
    spaced(ctx, 0);
  }
  ctx.restore();
}

type CanvasSpec = { x: number; y: number; w: number; h: number; config: () => any };

function buildConfig(reported: number[], simulated: number[], yMax: number, pad: any, big: boolean, draw: (c: any) => void) {
  return {
    type: "bar",
    data: {
      labels: MONTH_LABELS,
      datasets: [
        {
          type: "line", label: "Simulated Cases", data: simulated, borderColor: LINE_COLOR,
          borderWidth: big ? 5 : 3.6, pointRadius: 0, cubicInterpolationMode: "monotone", fill: false, order: 0,
          borderCapStyle: "round", borderJoinStyle: "round",
        },
        {
          type: "bar", label: "Reported Cases", data: reported,
          backgroundColor: big ? MAIN_FILL : SMALL_FILL, borderColor: big ? MAIN_EDGE : SMALL_EDGE,
          borderWidth: big ? 2.4 : 0.6, barPercentage: 1, categoryPercentage: 1, borderSkipped: "start", order: 1,
        },
      ],
    },
    options: {
      animation: false, responsive: false, devicePixelRatio: 1, events: [],
      layout: { padding: pad },
      plugins: { legend: { display: false }, tooltip: { enabled: false }, title: { display: false } },
      scales: {
        x: { display: false, offset: true, grid: { display: false } },
        y: { display: false, min: 0, max: yMax, grid: { display: false } },
      },
    },
    plugins: [{ id: "decor", afterDraw: (chart: any) => draw(chart) }],
  };
}

const CANVASES: CanvasSpec[] = [];
CANVASES.push({
  x: 0, y: 0, w: 1960, h: 560,
  config: () => buildConfig(jiangsuReported, jiangsuSimulated, 9,
    { left: 139, right: 1960 - 1415, top: 54, bottom: 560 - 438 }, true, drawMain),
});
PANELS.forEach((p) => {
  const c = COLS[p.col]; const r = ROWS[p.row];
  let cl = c.axisX - 62, ct = r.titleY - 22;
  let cr = c.right + 26, cb = r.bottom ? r.zero + 62 : r.zero + 48;
  if (p.extra === "ytitle") { cl = 0; ct = 520; }
  if (p.extra === "xtitle") { cl = 860; cb = 1248; }
  const pad = { left: c.axisX - cl, right: cr - c.right, top: r.top - ct, bottom: cb - r.zero };
  CANVASES.push({
    x: cl, y: ct, w: cr - cl, h: cb - ct,
    config: () => buildConfig(p.reported, p.simulated, p.yMax, pad, false, (chart) => drawSmall(chart, p, cl, ct)),
  });
});

export default function App() {
  const refs = useRef<(HTMLCanvasElement | null)[]>([]);
  useEffect(() => {
    const charts = CANVASES.map((c, i) => new Chart(refs.current[i] as HTMLCanvasElement, c.config()));
    return () => charts.forEach((ch) => ch.destroy());
  }, []);
  return (
    <div style={{ position: "absolute", left: 0, top: 0, width: 1960, height: 1248, overflow: "hidden", background: "#ffffff" }}>
      {CANVASES.map((c, i) => (
        <canvas
          key={i}
          ref={(el) => { refs.current[i] = el; }}
          width={c.w}
          height={c.h}
          style={{ position: "absolute", left: c.x, top: c.y, width: c.w, height: c.h }}
        />
      ))}
    </div>
  );
}
